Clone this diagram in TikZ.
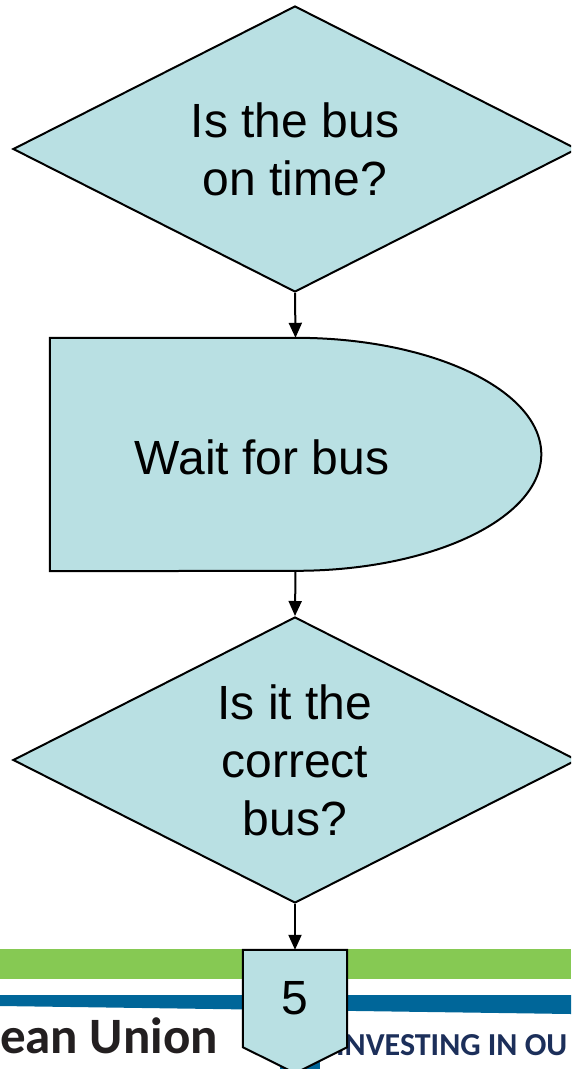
\documentclass[tikz,border=0pt]{standalone}
\usepackage{fontspec}
\setmainfont{Liberation Sans}
\newfontfamily\logofont{Carlito}
\usetikzlibrary{shapes.geometric,arrows.meta}

\definecolor{boxfill}{HTML}{B9E0E3}
\definecolor{bandgreen}{HTML}{86C953}
\definecolor{bandblue}{HTML}{006699}
\definecolor{logonavy}{HTML}{1C2F5A}
\definecolor{logogrey}{HTML}{231F20}

\begin{document}
\begin{tikzpicture}[x=1pt,y=-1pt,
    chart/.style={draw=black,fill=boxfill,line width=2pt,line join=miter},
    question/.style={chart,diamond,aspect=2,minimum width=564pt,minimum height=286pt,inner sep=0pt,
        align=center,font=\fontsize{48}{58}\selectfont},
    label/.style={inner sep=0pt,font=\fontsize{48}{58}\selectfont},
    flow/.style={line width=2pt,-{Triangle[length=15pt,width=13pt]}}]
    \useasboundingbox (0,0) rectangle (571,1069);
    \clip (0,0) rectangle (571,1069);
    % footer bands and logo text
    \fill[bandgreen] (0,949) rectangle (571,979);
    \fill[bandblue] (0,995) -- (571,995) -- (571,1014) -- (0,1006) -- cycle;
    \fill[bandblue] (280,1055) rectangle (320,1069);
    \node[anchor=base east,inner sep=0pt,text=logogrey,font=\logofont\bfseries\fontsize{51}{51}\selectfont]
        (union) at (218,1053) {ean Union};
    \node[anchor=base west,inner sep=0pt,text=logonavy,font=\logofont\bfseries\fontsize{32}{32}\selectfont]
        (invest) at (336,1055) {INVESTING IN OU};

    % decisions
    \node[question] (ontime) at (295,149) {Is the bus\\on time?};
    \node[question] (correct) at (295,760) {Is it the\\correct\\bus?};

    % delay
    \node[minimum width=491pt,minimum height=233pt,inner sep=0pt] (wait) at (295.5,454.5) {};
    \draw[chart] (wait.north west) -- ++(246,0)
        arc[start angle=90,end angle=-90,x radius=245.5pt,y radius=116.5pt]
        -- (wait.south west) -- cycle;
    \node[label] (waitlbl) at (262,457) {Wait for bus};

    % off-page connector
    \node[minimum width=104pt,minimum height=97pt,inner sep=0pt] (page) at (295,998.5) {};
    \draw[chart] (page.north west) -- (page.north east) -- (page.south east)
        -- ++(-52,26) -- (page.south west) -- cycle;
    \node[label] (pagelbl) at (page.center) {5};

    \draw[flow] (ontime.south) -- (wait.north);
    \draw[flow] (wait.south) -- (correct.north);
    \draw[flow] (correct.south) -- (page.north);
\end{tikzpicture}
\end{document}
